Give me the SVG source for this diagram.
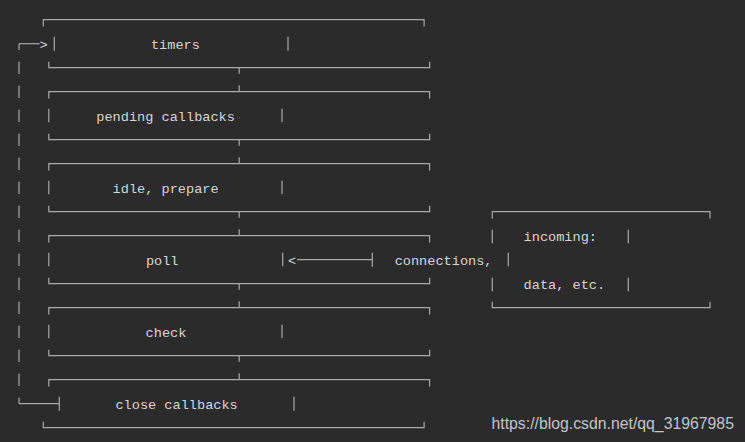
<svg xmlns="http://www.w3.org/2000/svg" width="745" height="442" viewBox="0 0 745 442">
<style>
.bg{fill:#2b2b2b}
.ln{fill:none;stroke:#a9a9a9;stroke-width:1.2}
.tx{font-family:"Liberation Mono","DejaVu Sans Mono",monospace;font-size:13.6px;fill:#d6d6d6;text-anchor:middle}
.wm{font-family:"Liberation Sans",Arial,sans-serif;font-size:15.8px;fill:#c4c4c4}
</style>
<rect class="bg" x="0" y="0" width="745" height="442"/>
<g id="timers">
<path class="ln" d="M43.3,26.4 V19.7 H424.1 V26.4"/>
<path class="ln" d="M54.3,36.7 V50.7 M288,36.7 V50.7"/>
<path class="ln" d="M48.8,61.7 V67.7 H429.6 V61.7"/>
<text class="tx" x="175.4" y="49">timers</text>
</g>
<g id="pending">
<path class="ln" d="M48.8,98.4 V91.7 H429.6 V98.4"/>
<path class="ln" d="M48.8,108.7 V122.2 M282,108.7 V122.2"/>
<path class="ln" d="M48.8,133.7 V139.7 H429.6 V133.7"/>
<text class="tx" x="165.6" y="121">pending callbacks</text>
</g>
<g id="idle">
<path class="ln" d="M48.8,170.4 V163.7 H429.6 V170.4"/>
<path class="ln" d="M48.8,180.7 V194.2 M282,180.7 V194.2"/>
<path class="ln" d="M48.8,205.7 V211.7 H429.6 V205.7"/>
<text class="tx" x="165.6" y="193">idle, prepare</text>
</g>
<g id="poll">
<path class="ln" d="M48.8,242.4 V235.7 H429.6 V242.4"/>
<path class="ln" d="M48.8,252.7 V266.2 M282.7,252.7 V266.2"/>
<path class="ln" d="M48.8,277.7 V283.7 H429.6 V277.7"/>
<text class="tx" x="162.2" y="265">poll</text>
</g>
<g id="check">
<path class="ln" d="M48.8,314.4 V307.7 H429.6 V314.4"/>
<path class="ln" d="M48.8,324.7 V338.2 M282,324.7 V338.2"/>
<path class="ln" d="M48.8,349.7 V355.7 H429.6 V349.7"/>
<text class="tx" x="166" y="337">check</text>
</g>
<g id="close">
<path class="ln" d="M48.8,386.4 V379.7 H429.6 V386.4"/>
<path class="ln" d="M59.3,396.7 V410.7 M294,396.7 V410.7"/>
<path class="ln" d="M43.3,421.7 V427.7 H424.1 V421.7"/>
<text class="tx" x="176.6" y="409">close callbacks</text>
</g>
<g id="incoming">
<path class="ln" d="M492.3,218.4 V211.7 H710 V218.4"/>
<path class="ln" d="M492.3,229.7 V243.2 M628.3,229.7 V243.2"/>
<path class="ln" d="M372.3,252.7 V266.7 M508.3,252.7 V266.2"/>
<path class="ln" d="M492.3,277.7 V291.2 M628.3,277.7 V291.2"/>
<path class="ln" d="M492.3,301.7 V307.7 H710 V301.7"/>
<text class="tx" x="560.3" y="241">incoming:</text>
<text class="tx" x="443.6" y="265">connections,</text>
<text class="tx" x="564.4" y="289">data, etc.</text>
</g>
<g id="connectors">
<path class="ln" d="M239.2,67.7 V73.7 M239.2,91.7 V85.2"/>
<path class="ln" d="M239.2,139.7 V145.7 M239.2,163.7 V157.2"/>
<path class="ln" d="M239.2,211.7 V217.7 M239.2,235.7 V229.2"/>
<path class="ln" d="M239.2,283.7 V289.7 M239.2,307.7 V301.2"/>
<path class="ln" d="M239.2,355.7 V361.7 M239.2,379.7 V373.2"/>
<path class="ln" d="M39.6,43.7 H19"/>
<path class="ln" d="M19,43.7 V403.7" stroke-dasharray="12.3 11.7" stroke-dashoffset="6"/>
<path class="ln" d="M19,403.7 H59.3"/>
<text class="tx" x="43.5" y="49">&gt;</text>
<path class="ln" d="M297,259.7 H372.3"/>
<text class="tx" x="292.2" y="265">&lt;</text>
</g>
<text class="wm" x="491.5" y="428.5">https://blog.csdn.net/qq_31967985</text>
</svg>
